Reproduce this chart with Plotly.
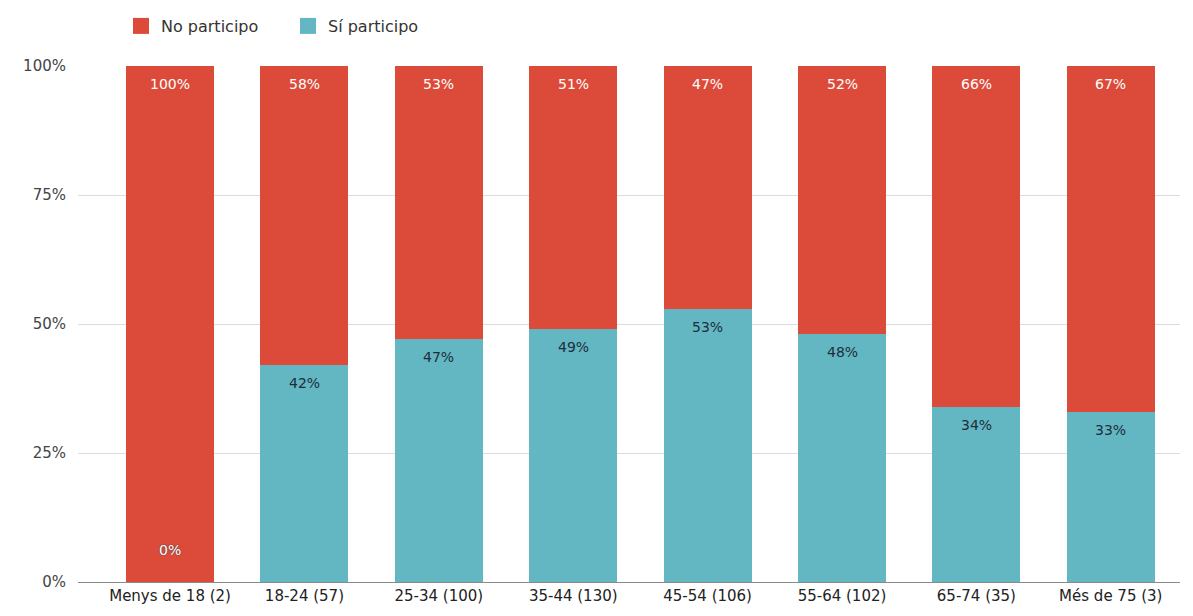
import plotly.graph_objects as go

categories = ["Menys de 18 (2)", "18-24 (57)", "25-34 (100)", "35-44 (130)",
              "45-54 (106)", "55-64 (102)", "65-74 (35)", "Més de 75 (3)"]
si_participo = [0, 42, 47, 49, 53, 48, 34, 33]
no_participo = [100, 58, 53, 51, 47, 52, 66, 67]
series_names = ["No participo", "Sí participo"]

RED = "#DC4B3A"
TEAL = "#63B7C3"
FONT = "DejaVu Sans, Liberation Sans, Arial, sans-serif"

fig = go.Figure()
fig.add_trace(go.Bar(name=series_names[1], x=categories, y=[v / 100 for v in si_participo],
                     marker=dict(color=TEAL, line=dict(width=0)), showlegend=False))
fig.add_trace(go.Bar(name=series_names[0], x=categories, y=[v / 100 for v in no_participo],
                     marker=dict(color=RED, line=dict(width=0)), showlegend=False))
# legend entries with larger square swatches
for name, col in zip(series_names, [RED, TEAL]):
    fig.add_trace(go.Scatter(name=name, x=[None], y=[None], mode="markers",
                             marker=dict(symbol="square", size=18, color=col),
                             showlegend=True, hoverinfo="skip"))

annotations = []
for i, c in enumerate(categories):
    s = si_participo[i] / 100
    tot = (si_participo[i] + no_participo[i]) / 100
    annotations.append(dict(x=c, y=tot, text=f"{no_participo[i]}%", showarrow=False,
                            yanchor="top", yshift=-8,
                            font=dict(family=FONT, size=14, color="white")))
    if si_participo[i] > 0:
        annotations.append(dict(x=c, y=s, text=f"{si_participo[i]}%", showarrow=False,
                                yanchor="top", yshift=-8,
                                font=dict(family=FONT, size=14, color="#1f2d3a")))
    else:
        annotations.append(dict(x=c, y=s, text=f"{si_participo[i]}%", showarrow=False,
                                yanchor="bottom", yshift=22,
                                font=dict(family=FONT, size=14, color="white",
                                          shadow="0px 0px 2px #2a4a55")))

fig.update_layout(
    barmode="stack",
    bargap=0.345,
    width=1193, height=616,
    margin=dict(l=70, r=21, t=58, b=42, autoexpand=False),
    paper_bgcolor="white", plot_bgcolor="white",
    font=dict(family=FONT, size=14, color="#333333"),
    legend=dict(orientation="h", x=0.039, y=1.0775, xanchor="left", yanchor="middle",
                traceorder="normal",
                font=dict(family=FONT, size=16, color="#333333"),
                itemsizing="trace", entrywidth=122, bgcolor="rgba(0,0,0,0)"),
    annotations=annotations,
    xaxis=dict(range=[-0.685, 7.515], showgrid=False, showline=True,
               linecolor="#8a8a8a", linewidth=1, ticks="",
               tickfont=dict(family=FONT, size=15, color="#222222")),
    yaxis=dict(range=[0, 1], tickvals=[0, 0.25, 0.5, 0.75, 1.0],
               tickformat=".0%", showgrid=True, gridcolor="#dcdcdc", gridwidth=1,
               zeroline=False, ticks="", ticklabelstandoff=11,
               tickfont=dict(family=FONT, size=15, color="#444444")),
)

fig.write_html("out.html")
